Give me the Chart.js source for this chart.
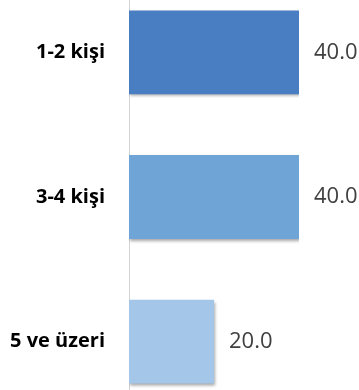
<!DOCTYPE html>
<html>
<head>
<meta charset="utf-8">
<script src="https://cdn.jsdelivr.net/npm/chart.js@4/dist/chart.umd.min.js"></script>
<style>
  html, body { margin: 0; padding: 0; background: #fff; }
  #frame { position: relative; width: 359px; height: 390px; overflow: hidden; }
  #householdChart { position: absolute; left: 0; top: -20px; }
</style>
</head>
<body>
<div id="frame"><canvas id="householdChart" width="359" height="434"></canvas></div>
<script>
/* ====== householdChart ===== */
const categories = ['1-2 kişi', '3-4 kişi', '5 ve üzeri'];
const shares = [40.0, 40.0, 20.0];
const barColors = ['#4a7ec2', '#6fa4d7', '#a4c6e8'];

// soft drop shadow under the bars
const barShadow = {
    id: 'barShadow',
    beforeDatasetsDraw(chart) {
        const ctx = chart.ctx;
        ctx.save();
        ctx.shadowColor = 'rgba(0,0,0,0.35)';
        ctx.shadowBlur = 3;
        ctx.shadowOffsetX = 1;
        ctx.shadowOffsetY = 2;
    },
    afterDatasetsDraw(chart) {
        chart.ctx.restore();
    }
};

// value text to the right of each bar
const valueLabels = {
    id: 'valueLabels',
    afterDatasetsDraw(chart) {
        const ctx = chart.ctx;
        const meta = chart.getDatasetMeta(0);
        ctx.save();
        ctx.font = '22px "Open Sans", sans-serif';
        ctx.fillStyle = '#404040';
        ctx.textAlign = 'left';
        ctx.textBaseline = 'middle';
        meta.data.forEach((bar, i) => {
            ctx.fillText(shares[i].toFixed(1), bar.x + 15, bar.y);
        });
        ctx.restore();
    }
};

const householdData = {
    labels: categories,
    datasets: [
        {
        data: shares,
        backgroundColor: barColors,
        borderWidth: 0,
        barPercentage: 0.58,
        categoryPercentage: 1.0,
        }
    ]
};

const householdConfig = {
    type: 'bar',
    data: householdData,
    options: {
        indexAxis: 'y',
        responsive: false,
        animation: false,
        layout: {
            autoPadding: false,
            padding: { left: 0, right: 60, top: 0, bottom: 0 }
        },
        scales: {
            x: {
                display: false,
                min: 0,
                max: 40,
            },
            y: {
                afterFit(scale) {
                    scale.width = 129;
                    scale.paddingTop = 0;
                    scale.paddingBottom = 0;
                },
                grid: { display: false, drawTicks: false },
                border: { display: true, color: '#d4d4d4', width: 1 },
                ticks: {
                    padding: 24,
                    color: '#000',
                    font: { family: '"Open Sans", sans-serif', size: 20, weight: 'bold' }
                }
            }
        },
        plugins: {
            legend: { display: false },
            tooltip: { enabled: false }
        }
    },
    plugins: [barShadow, valueLabels]
};

const householdChart = new Chart(
    document.querySelector('#householdChart'),
    householdConfig
);
</script>
</body>
</html>
